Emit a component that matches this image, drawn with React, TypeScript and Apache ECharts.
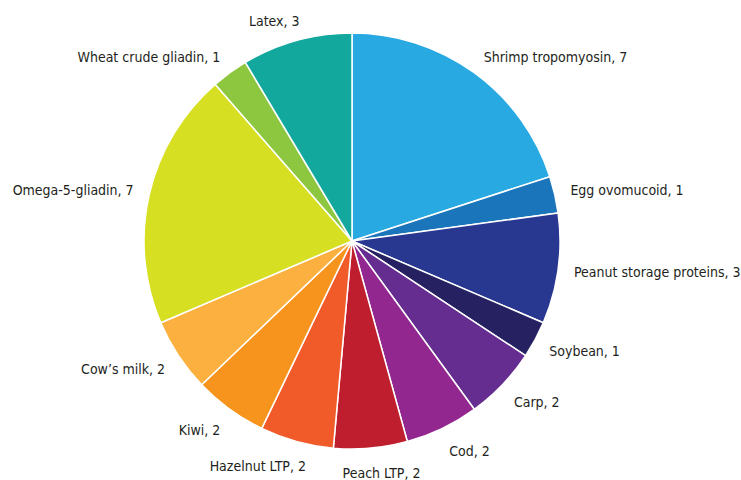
import React, { useEffect, useRef } from "react";
import * as echarts from "echarts";

const categories = [
  "Shrimp tropomyosin",
  "Egg ovomucoid",
  "Peanut storage proteins",
  "Soybean",
  "Carp",
  "Cod",
  "Peach LTP",
  "Hazelnut LTP",
  "Kiwi",
  "Cow’s milk",
  "Omega-5-gliadin",
  "Wheat crude gliadin",
  "Latex",
];
const values = [7, 1, 3, 1, 2, 2, 2, 2, 2, 2, 7, 1, 3];
const colors = [
  "#29a9e1",
  "#1a75bb",
  "#283891",
  "#262262",
  "#662d91",
  "#92278f",
  "#be1e2d",
  "#f15a29",
  "#f7941d",
  "#fbb040",
  "#d7df23",
  "#8dc63f",
  "#13a89e",
];

const CX = 352;
const CY = 241;
const R = 208;
const LABEL_RX = 224;
const LABEL_RY = 228;

export default function App() {
  const ref = useRef<HTMLDivElement>(null);
  useEffect(() => {
    if (!ref.current) return;
    const chart = echarts.init(ref.current, null, { renderer: "svg" });
    const total = values.reduce((a, b) => a + b, 0);
    chart.setOption({
      animation: false,
      series: [
        {
          type: "pie",
          left: 0,
          top: 0,
          width: 1000,
          height: 480,
          center: [CX, CY],
          radius: [0, R],
          startAngle: 90,
          clockwise: true,
          avoidLabelOverlap: false,
          itemStyle: { borderColor: "#ffffff", borderWidth: 1.5 },
          label: {
            show: true,
            position: "outside",
            formatter: "{b}, {c}",
            color: "#231f20",
            fontSize: 14,
            overflow: "none",
            bleedMargin: 0,
            fontFamily: "'DejaVu Sans Condensed', sans-serif",
          },
          labelLine: { show: false, length: 8, length2: 0 },
          labelLayout: (p: any) => {
            const idx = p.dataIndex;
            let before = 0;
            for (let i = 0; i < idx; i++) before += values[i];
            const a = ((before + values[idx] / 2) / total) * Math.PI * 2;
            const s = Math.sin(a);
            const c = Math.cos(a);
            const ax = CX + LABEL_RX * s;
            const ay = CY - LABEL_RY * c + (c < 0 ? -5 * c : 0);
            const f = Math.min(1, Math.max(0, 0.5 - 1.35 * s));
            return {
              x: ax - f * p.labelRect.width,
              y: ay,
              align: "left",
              verticalAlign: "middle",
            };
          },
          emphasis: { disabled: true },
          data: categories.map((name, i) => ({
            name,
            value: values[i],
            itemStyle: { color: colors[i] },
          })),
        },
      ],
    });
    return () => chart.dispose();
  }, []);
  return (
    <div
      ref={ref}
      style={{ position: "absolute", left: 0, top: 0, width: 741, height: 480 }}
    />
  );
}
